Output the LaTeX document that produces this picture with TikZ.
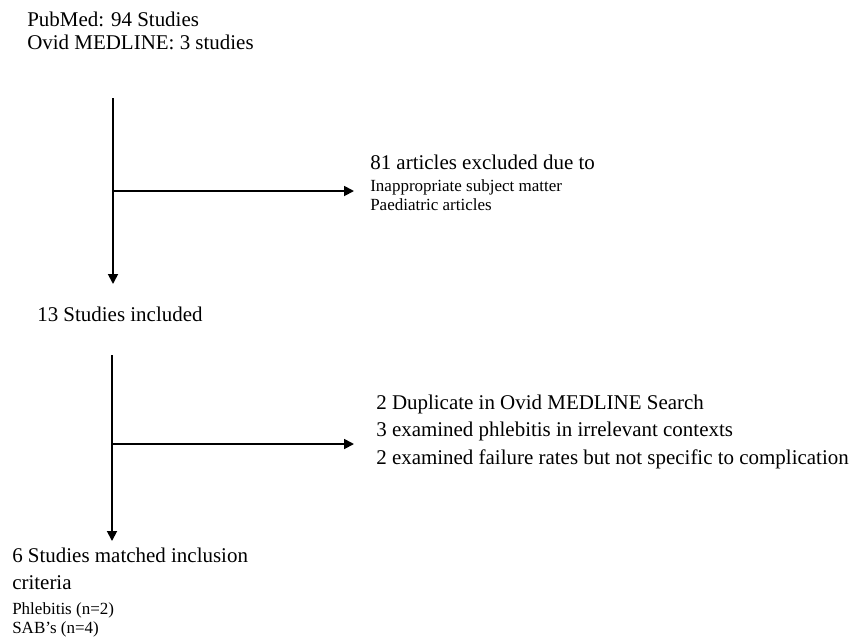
\documentclass[tikz,border=0pt]{standalone}
\usepackage{fontspec}
\setmainfont{Liberation Serif}
\usepackage{tikz}
\usetikzlibrary{arrows.meta, positioning, calc}
\tikzstyle{head} = [anchor=base west, inner sep=0pt, align=left, font=\fontsize{14.9}{19.5}\selectfont]
\tikzstyle{sub} = [anchor=base west, inner sep=0pt, align=left, font=\fontsize{12.1}{13.5}\selectfont]
\tikzstyle{arrow} = [-{Triangle[length=7pt, width=7pt]}, line width=1.3pt]

\begin{document}
\begin{tikzpicture}[x=0.025cm, y=-0.025cm]
  \useasboundingbox (0,0) rectangle (853,640);
  %texts (base = last line)
  \node (search) [head] at (27,49) {PubMed: 94 Studies\\[-3.2pt]Ovid MEDLINE: 3 studies};
  \node (excl1) [head] at (370,169) {81 articles excluded due to};
  \node (excl1list) [sub] at (370,210) {Inappropriate subject matter\\Paediatric articles};
  \node (incl) [head] at (37,321) {13 Studies included};
  \node (excl2) [head] at (376,464) {2 Duplicate in Ovid MEDLINE Search\\3 examined phlebitis in irrelevant contexts\\2 examined failure rates but not specific to complication};
  \node (final) [head] at (12,589) {6 Studies matched inclusion\\[-0.4pt]criteria};
  \node (finallist) [sub] at (12,633) {Phlebitis (n=2)\\SAB’s (n=4)};

  %connector ends
  \coordinate (top1) at (113,98);
  \coordinate (mid1) at (113,191);
  \coordinate (end1) at (113,284);
  \coordinate (tip1) at (354,191);
  \coordinate (top2) at (112,355);
  \coordinate (mid2) at (112,444);
  \coordinate (end2) at (112,541);
  \coordinate (tip2) at (354,444);

  %arrows
  \draw [arrow](top1) -- (end1);
  \draw [arrow](mid1) -- (tip1);
  \draw [arrow](top2) -- (end2);
  \draw [arrow](mid2) -- (tip2);
\end{tikzpicture}
\end{document}
